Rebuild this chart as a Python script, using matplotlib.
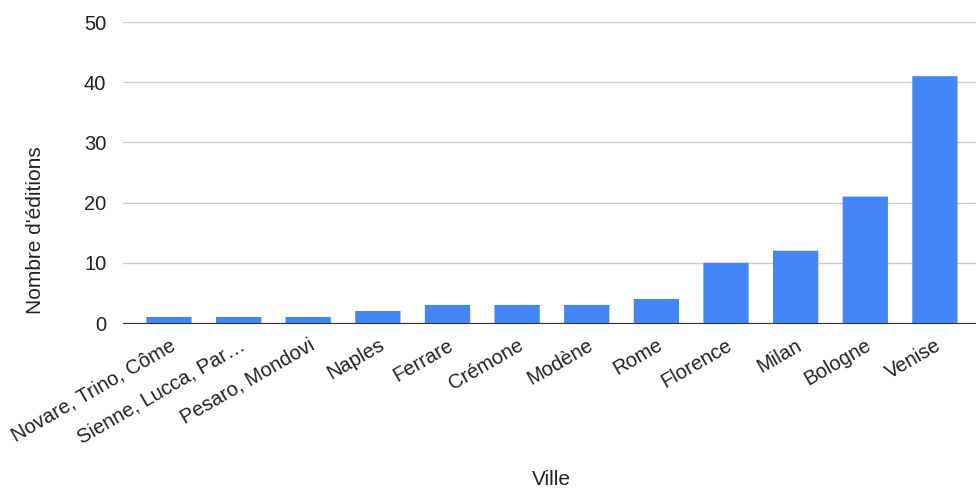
import matplotlib.pyplot as plt
from matplotlib.patches import FancyBboxPatch

plt.rcParams['font.family'] = ['Liberation Sans', 'DejaVu Sans']

villes = ['Novare, Trino, Côme', 'Sienne, Lucca, Par…', 'Pesaro, Mondovi',
          'Naples', 'Ferrare', 'Crémone', 'Modène', 'Rome', 'Florence',
          'Milan', 'Bologne', 'Venise']
editions = [1, 1, 1, 2, 3, 3, 3, 4, 10, 12, 21, 41]

fig = plt.figure(figsize=(9.76, 4.9), dpi=100)
ax = fig.add_axes([123 / 976, 1 - 323 / 490, (976 - 123) / 976, (323 - 22) / 490])

bars = ax.bar(range(len(villes)), editions, width=0.65, color='#4285F4')

# swap plain rectangles for slightly rounded ones
for b in bars:
    x, y = b.get_xy()
    w, h = b.get_width(), b.get_height()
    b.set_visible(False)
    ax.add_patch(FancyBboxPatch((x, y), w, h,
                                boxstyle='round,pad=0,rounding_size=0.045',
                                mutation_aspect=1 / 11.5,
                                facecolor='#4285F4', edgecolor='none', zorder=2))

ax.set_xlim(-0.66, 11.59)
ax.set_ylim(0, 50)
ax.set_yticks([0, 10, 20, 30, 40, 50])
ax.set_xticks(range(len(villes)))
ax.set_xticklabels(villes, rotation=30, ha='right', rotation_mode='anchor')

ax.grid(axis='y', color='#cccccc', linewidth=1)
ax.set_axisbelow(True)
for side in ['top', 'right', 'left']:
    ax.spines[side].set_visible(False)
ax.spines['bottom'].set_color('#333333')
ax.spines['bottom'].set_zorder(3)
ax.tick_params(length=0, labelsize=14.5, colors='#222222')
ax.tick_params(axis='y', pad=12)
ax.tick_params(axis='x', pad=9)

ax.set_xlabel('Ville', fontsize=15, color='#222222')
ax.set_ylabel("Nombre d'éditions", fontsize=15, color='#222222')
ax.xaxis.set_label_coords(0.502, -0.49)
ax.yaxis.set_label_coords(-0.092, 0.31)

fig.savefig('out.png', dpi=100)
